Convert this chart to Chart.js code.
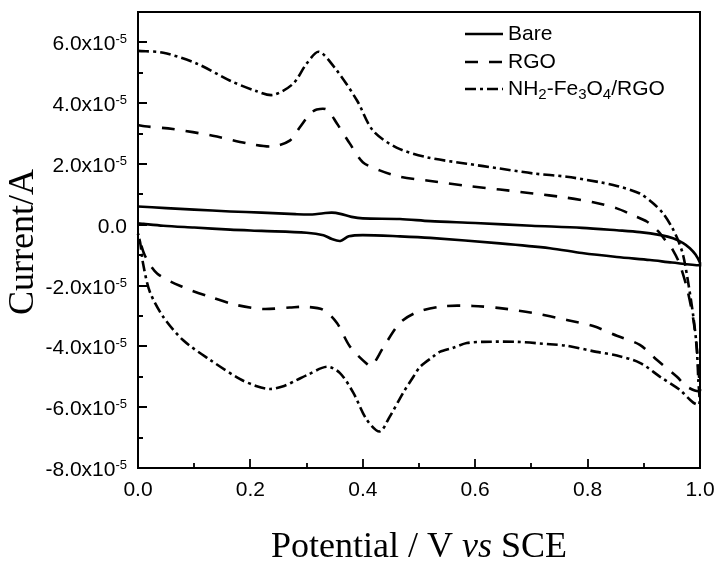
<!DOCTYPE html>
<html>
<head>
<meta charset="utf-8">
<script src="https://cdn.jsdelivr.net/npm/chart.js@4.4.1/dist/chart.umd.min.js"></script>
<style>
    html, body { margin: 0; padding: 0; background: #fff; }
    #wrap { width: 726px; height: 567px; position: relative; }
</style>
</head>
<body>
<div id="wrap"><canvas id="cvChart"></canvas></div>
<script>
// axis ticks (current in units of 1e-5 A)
const potentialTicks = [0.0, 0.2, 0.4, 0.6, 0.8, 1.0];
const potentialMinor = [0.1, 0.3, 0.5, 0.7, 0.9];
const currentTicks = [6, 4, 2, 0, -2, -4, -6, -8];
const currentMinor = [5, 3, 1, -1, -3, -5, -7];
const currentExp = "-5";
const seriesNames = ["Bare", "RGO", "NH2-Fe3O4/RGO"];

// Bare electrode: forward scan then reverse scan
const bareV = [0.0, 0.05, 0.10, 0.164, 0.22, 0.28, 0.31, 0.33, 0.345, 0.36, 0.38, 0.40, 0.466, 0.52, 0.60, 0.70, 0.79, 0.852, 0.893, 0.93, 0.952, 0.97, 0.982, 0.992, 1.0,
    1.0, 0.95, 0.911, 0.852, 0.79, 0.733, 0.644, 0.52, 0.466, 0.40, 0.375, 0.36, 0.345, 0.33, 0.30, 0.22, 0.164, 0.10, 0.045, 0.01, 0.0];
const bareI = [0.60, 0.55, 0.50, 0.44, 0.40, 0.35, 0.34, 0.38, 0.40, 0.36, 0.26, 0.21, 0.19, 0.12, 0.06, -0.03, -0.10, -0.18, -0.24, -0.34, -0.44, -0.60, -0.77, -0.98, -1.25,
    -1.33, -1.24, -1.16, -1.06, -0.93, -0.77, -0.61, -0.43, -0.38, -0.34, -0.38, -0.53, -0.47, -0.34, -0.26, -0.20, -0.16, -0.09, -0.03, 0.03, 0.05];

// RGO
const rgoV = [0.0, 0.012, 0.062, 0.133, 0.205, 0.24, 0.27, 0.288, 0.306, 0.318, 0.336, 0.354, 0.377, 0.40, 0.43, 0.466, 0.514, 0.585, 0.644, 0.703, 0.76, 0.81, 0.852, 0.881, 0.906, 0.925, 0.94, 0.952, 0.964, 0.977, 0.988, 0.994, 0.997, 1.0,
    0.977, 0.959, 0.923, 0.893, 0.852, 0.81, 0.763, 0.703, 0.644, 0.596, 0.543, 0.496, 0.466, 0.436, 0.416, 0.407, 0.377, 0.354, 0.33, 0.30, 0.27, 0.222, 0.176, 0.128, 0.08, 0.034, 0.012, 0.0];
const rgoI = [3.28, 3.24, 3.15, 2.93, 2.64, 2.58, 2.77, 3.21, 3.65, 3.79, 3.79, 3.33, 2.67, 2.06, 1.79, 1.58, 1.46, 1.28, 1.16, 1.03, 0.90, 0.74, 0.54, 0.31, 0.10, -0.20, -0.55, -0.84, -1.30, -2.10, -3.10, -4.00, -4.70, -5.45,
    -5.33, -5.00, -4.44, -3.95, -3.65, -3.33, -3.13, -2.90, -2.74, -2.67, -2.68, -2.88, -3.23, -4.05, -4.64, -4.57, -4.00, -3.23, -2.80, -2.70, -2.72, -2.77, -2.64, -2.37, -2.05, -1.60, -1.00, -0.30];

// NH2-Fe3O4/RGO
const nfgV = [0.0, 0.045, 0.105, 0.164, 0.21, 0.24, 0.276, 0.30, 0.322, 0.354, 0.39, 0.418, 0.46, 0.514, 0.585, 0.644, 0.703, 0.763, 0.822, 0.852, 0.893, 0.917, 0.934, 0.95, 0.961, 0.97, 0.979, 0.988, 0.994, 0.997, 0.999,
    0.988, 0.964, 0.929, 0.893, 0.852, 0.816, 0.763, 0.733, 0.674, 0.614, 0.585, 0.56, 0.537, 0.525, 0.502, 0.49, 0.472, 0.448, 0.43, 0.407, 0.383, 0.359, 0.336, 0.30, 0.283, 0.26, 0.235, 0.21, 0.181, 0.128, 0.08, 0.045, 0.021, 0.009, 0.004, 0.0];
const nfgI = [5.72, 5.66, 5.30, 4.74, 4.40, 4.27, 4.64, 5.30, 5.69, 5.07, 4.08, 3.10, 2.54, 2.22, 2.01, 1.85, 1.69, 1.58, 1.40, 1.28, 1.03, 0.70, 0.38, -0.08, -0.51, -1.00, -1.90, -3.00, -4.00, -5.10, -5.90,
    -5.85, -5.43, -5.00, -4.54, -4.30, -4.18, -3.98, -3.93, -3.85, -3.85, -3.89, -4.05, -4.18, -4.34, -4.67, -5.00, -5.52, -6.31, -6.80, -6.41, -5.52, -4.87, -4.67, -4.95, -5.10, -5.30, -5.40, -5.30, -5.07, -4.44, -3.79, -3.03, -2.20, -1.27, -0.60, -0.30];

const dashRGO = [13, 11];
const dashNFG = [11, 4, 3, 4];

function toPoints(xs, ys) {
    return xs.map((x, i) => ({ x: x, y: ys[i] }));
}

function drawSubText(ctx, text, x, y, size, mode) {
    // digits are drawn as subscripts (chemical formula); returns width
    let cx = x;
    const parts = text.split(/(\d)/).filter((p) => p.length);
    parts.forEach((p) => {
        if (/^\d$/.test(p)) {
            ctx.font = Math.round(size * 0.72) + "px 'Liberation Sans', Arial, sans-serif";
            if (mode !== "measure") ctx.fillText(p, cx, y + size * 0.28);
        } else {
            ctx.font = size + "px 'Liberation Sans', Arial, sans-serif";
            if (mode !== "measure") ctx.fillText(p, cx, y);
        }
        cx += ctx.measureText(p).width;
    });
    return cx - x;
}

const axesDraw = {
    id: "axesDraw",
    afterDraw(chart) {
        const ctx = chart.ctx;
        const area = chart.chartArea;
        const xs = chart.scales.x;
        const ys = chart.scales.y;
        ctx.save();
        ctx.strokeStyle = "#000";
        ctx.fillStyle = "#000";

        // frame
        ctx.lineWidth = 2;
        ctx.strokeRect(area.left, area.top, area.right - area.left, area.bottom - area.top);

        // inward ticks
        ctx.lineWidth = 1.8;
        ctx.beginPath();
        potentialTicks.forEach((v) => {
            const px = Math.round(xs.getPixelForValue(v));
            ctx.moveTo(px, area.bottom);
            ctx.lineTo(px, area.bottom - 9);
        });
        potentialMinor.forEach((v) => {
            const px = Math.round(xs.getPixelForValue(v));
            ctx.moveTo(px, area.bottom);
            ctx.lineTo(px, area.bottom - 5);
        });
        currentTicks.forEach((v) => {
            const py = Math.round(ys.getPixelForValue(v));
            ctx.moveTo(area.left, py);
            ctx.lineTo(area.left + 9, py);
        });
        currentMinor.forEach((v) => {
            const py = Math.round(ys.getPixelForValue(v));
            ctx.moveTo(area.left, py);
            ctx.lineTo(area.left + 5, py);
        });
        ctx.stroke();

        // x tick labels
        ctx.font = "21px 'Liberation Sans', Arial, sans-serif";
        ctx.textAlign = "center";
        ctx.textBaseline = "alphabetic";
        potentialTicks.forEach((v) => {
            ctx.fillText(v.toFixed(1), xs.getPixelForValue(v), area.bottom + 28);
        });

        // y tick labels with superscript exponent
        ctx.textAlign = "left";
        const rightEdge = area.left - 11;
        currentTicks.forEach((v) => {
            const py = ys.getPixelForValue(v);
            const base = py + 8;
            if (v === 0) {
                ctx.font = "21px 'Liberation Sans', Arial, sans-serif";
                const w = ctx.measureText("0.0").width;
                ctx.fillText("0.0", rightEdge - w, base);
                return;
            }
            const main = v.toFixed(1) + "x10";
            ctx.font = "13px 'Liberation Sans', Arial, sans-serif";
            const ws = ctx.measureText(currentExp).width;
            ctx.font = "21px 'Liberation Sans', Arial, sans-serif";
            const wm = ctx.measureText(main).width;
            const x0 = rightEdge - ws - wm;
            ctx.fillText(main, x0, base);
            ctx.font = "13px 'Liberation Sans', Arial, sans-serif";
            ctx.fillText(currentExp, x0 + wm, py + 1);
        });

        // y title
        ctx.save();
        ctx.translate(area.left - 105, (area.top + area.bottom) / 2 + 2);
        ctx.rotate(-Math.PI / 2);
        ctx.textAlign = "center";
        ctx.font = "36px 'Liberation Serif', 'Times New Roman', serif";
        ctx.fillText("Current/A", 0, 0);
        ctx.restore();

        // x title with italic "vs"
        const p1 = "Potential / V ";
        const p2 = "vs";
        const p3 = " SCE";
        const fN = "36px 'Liberation Serif', 'Times New Roman', serif";
        const fI = "italic 36px 'Liberation Serif', 'Times New Roman', serif";
        ctx.font = fN;
        const w1 = ctx.measureText(p1).width;
        const w3 = ctx.measureText(p3).width;
        ctx.font = fI;
        const w2 = ctx.measureText(p2).width;
        let tx = (area.left + area.right) / 2 - (w1 + w2 + w3) / 2;
        const ty = area.bottom + 89;
        ctx.textAlign = "left";
        ctx.font = fN;
        ctx.fillText(p1, tx, ty);
        tx += w1;
        ctx.font = fI;
        ctx.fillText(p2, tx, ty);
        tx += w2;
        ctx.font = fN;
        ctx.fillText(p3, tx, ty);

        // legend
        const lx0 = 465, lx1 = 503;
        const rows = [34, 62, 89];
        ctx.textBaseline = "middle";
        chart.data.datasets.forEach((ds, i) => {
            ctx.save();
            ctx.lineWidth = ds.borderWidth;
            ctx.setLineDash(ds.borderDash || []);
            ctx.beginPath();
            ctx.moveTo(lx0, rows[i]);
            ctx.lineTo(lx1, rows[i]);
            ctx.stroke();
            ctx.restore();
            drawSubText(ctx, seriesNames[i], lx1 + 5, rows[i], 21);
        });

        ctx.restore();
    },
};

const chartConfig = {
    type: "scatter",
    data: {
        datasets: [
            {
                label: seriesNames[0],
                data: toPoints(bareV, bareI),
                borderColor: "#000",
                borderWidth: 2.6,
                borderDash: [],
            },
            {
                label: seriesNames[1],
                data: toPoints(rgoV, rgoI),
                borderColor: "#000",
                borderWidth: 2.6,
                borderDash: dashRGO,
            },
            {
                label: seriesNames[2],
                data: toPoints(nfgV, nfgI),
                borderColor: "#000",
                borderWidth: 2.6,
                borderDash: dashNFG,
            },
        ],
    },
    options: {
        responsive: true,
        maintainAspectRatio: false,
        animation: false,
        showLine: true,
        elements: {
            point: { radius: 0 },
            line: { tension: 0.3, fill: false, borderCapStyle: "butt" },
        },
        datasets: {
            scatter: { clip: 4 },
        },
        layout: {
            padding: { left: 138, right: 26, top: 12, bottom: 99 },
        },
        scales: {
            x: { type: "linear", min: 0, max: 1, display: false },
            y: { type: "linear", min: -8, max: 7, display: false },
        },
        plugins: {
            legend: { display: false },
            tooltip: { enabled: false },
        },
    },
    plugins: [axesDraw],
};

const myChart = new Chart(document.getElementById("cvChart"), chartConfig);
</script>
</body>
</html>
